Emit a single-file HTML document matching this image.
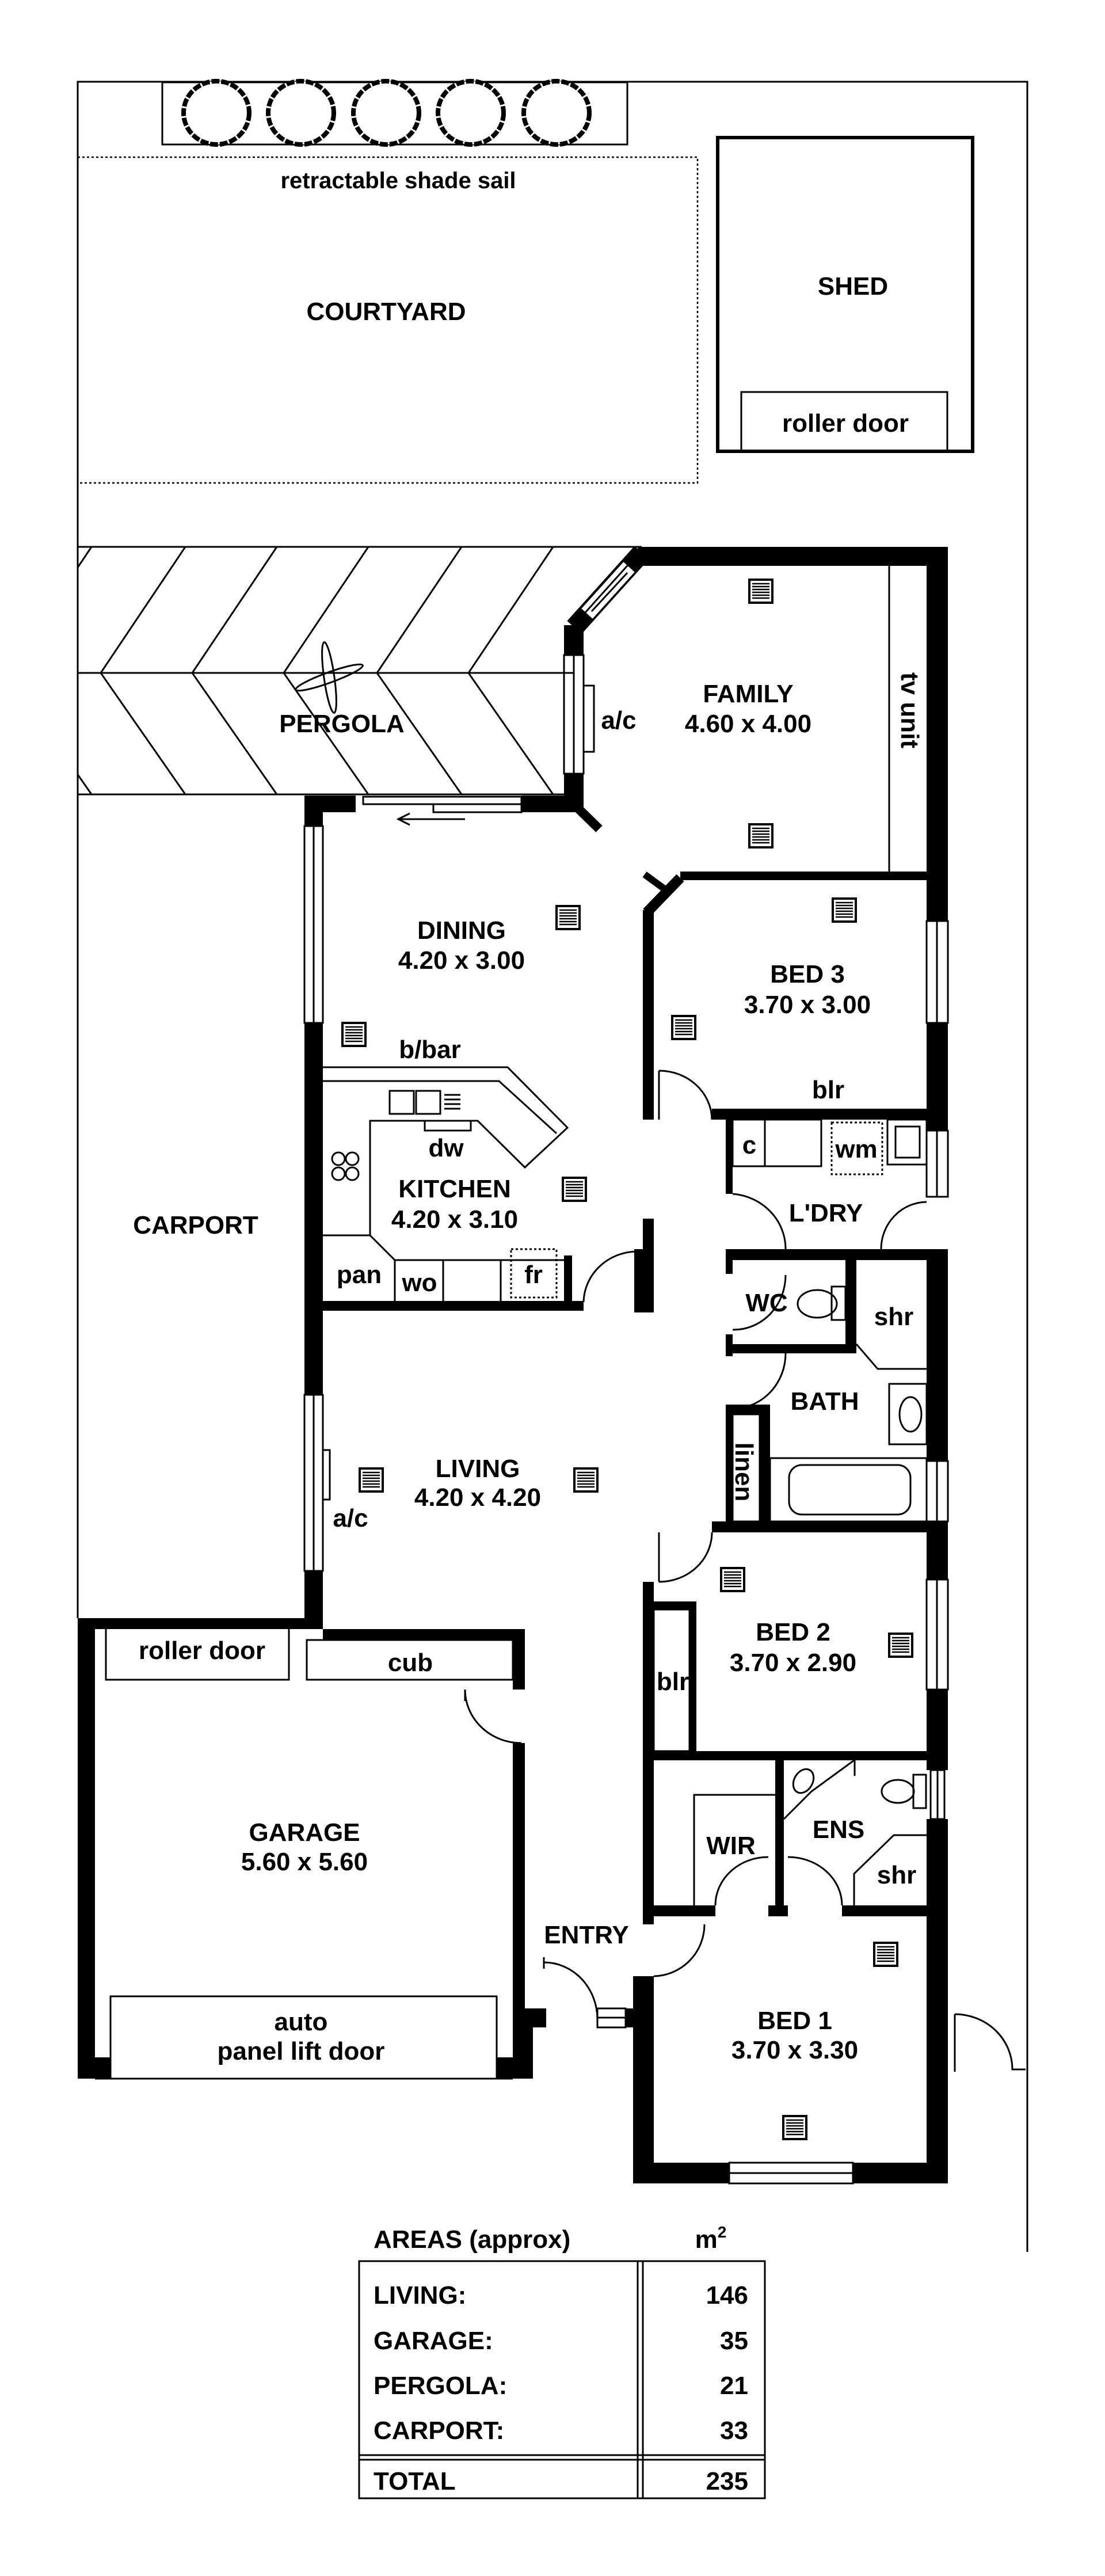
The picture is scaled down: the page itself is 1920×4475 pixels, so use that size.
<!DOCTYPE html>
<html><head><meta charset="utf-8"><style>
html,body{margin:0;padding:0;background:#fff;}
svg{display:block;}
text{font-family:"Liberation Sans",sans-serif;fill:#000;font-weight:bold;}
.l{font-size:44px;text-anchor:middle;}
.s{font-size:40px;text-anchor:middle;}
</style></head><body>
<svg width="1920" height="4475" viewBox="0 0 1920 4475" xmlns="http://www.w3.org/2000/svg">
<defs>
<symbol id="v" viewBox="0 0 44 44"><rect x="2" y="2" width="40" height="40" fill="#fff" stroke="#000" stroke-width="4"/><g stroke="#000" stroke-width="2.5"><line x1="7" y1="9" x2="37" y2="9"/><line x1="7" y1="14" x2="37" y2="14"/><line x1="7" y1="19" x2="37" y2="19"/><line x1="7" y1="24" x2="37" y2="24"/><line x1="7" y1="29" x2="37" y2="29"/><line x1="7" y1="34" x2="37" y2="34"/></g></symbol>
<clipPath id="pc"><polygon points="135,950 1115,950 998,1086 998,1380 135,1380"/></clipPath>
</defs>
<g fill="none" stroke="#000" stroke-width="3">
<polyline points="135,2811 135,142 1785,142 1785,3912"/>
<rect x="282" y="143" width="808" height="108"/>
<rect x="135" y="273" width="1077" height="566" stroke-dasharray="4,4" stroke-width="2.5"/>
<rect x="1247" y="239" width="443" height="545" stroke-width="6"/>
<rect x="1288" y="681" width="358" height="103"/>
</g>
<g fill="#fff" stroke="#000" stroke-width="8" stroke-dasharray="14,3">
<ellipse cx="376" cy="196" rx="57" ry="55"/><ellipse cx="523" cy="196" rx="57" ry="55"/><ellipse cx="671" cy="196" rx="57" ry="55"/><ellipse cx="818" cy="196" rx="57" ry="55"/><ellipse cx="967" cy="196" rx="57" ry="55"/>
</g>
<g fill="none" stroke="#000" stroke-width="3">
<line x1="135" y1="950" x2="1115" y2="950"/><line x1="135" y1="1380" x2="998" y2="1380"/><line x1="135" y1="1169" x2="998" y2="1169"/>
<g clip-path="url(#pc)">
<polyline points="0,950 -147,1169 0,1380"/><polyline points="159,950 12,1169 159,1380"/><polyline points="322,950 175,1169 322,1380"/><polyline points="481,950 334,1169 481,1380"/><polyline points="640,950 493,1169 640,1380"/><polyline points="802,950 655,1169 802,1380"/><polyline points="961,950 814,1169 961,1380"/>
</g>
<ellipse cx="572" cy="1177" rx="9" ry="62" transform="rotate(-8 572 1177)"/>
<ellipse cx="572" cy="1177" rx="62" ry="9" transform="rotate(-20 572 1177)"/>
</g>
<g fill="#000">
<rect x="1108" y="950" width="539" height="33"/>
<rect x="1610" y="950" width="37" height="650"/><rect x="1610" y="1777" width="37" height="187"/><rect x="1610" y="2170" width="37" height="368"/><rect x="1610" y="2643" width="37" height="101"/><rect x="1610" y="2935" width="37" height="140"/><rect x="1610" y="3160" width="37" height="633"/>
<rect x="980" y="1086" width="34" height="52"/><rect x="980" y="1344" width="34" height="67"/>
<rect x="529" y="1382" width="89" height="29"/><rect x="906" y="1382" width="108" height="29"/>
<rect x="529" y="1382" width="32" height="53"/><rect x="529" y="1777" width="32" height="646"/><rect x="529" y="2729" width="32" height="101"/>
<rect x="135" y="2811" width="426" height="19"/><rect x="561" y="2830" width="351" height="19"/>
<rect x="891" y="2830" width="21" height="105"/><rect x="891" y="3028" width="21" height="461"/><rect x="891" y="3489" width="58" height="33"/><rect x="891" y="3522" width="35" height="89"/><rect x="863" y="3574" width="63" height="37"/>
<rect x="135" y="2811" width="30" height="800"/><rect x="135" y="3574" width="57" height="37"/>
<rect x="561" y="2260" width="453" height="17"/><rect x="980" y="2181" width="14" height="80"/>
<rect x="1102" y="2170" width="15" height="110"/><rect x="1117" y="2117" width="19" height="163"/>
<rect x="1182" y="1514" width="465" height="15"/>
<rect x="1117" y="1581" width="19" height="364"/>
<rect x="1237" y="1926" width="410" height="19"/>
<rect x="1261" y="1926" width="12" height="148"/>
<rect x="1261" y="2170" width="386" height="19"/>
<rect x="1261" y="2170" width="12" height="43"/><rect x="1261" y="2318" width="12" height="38"/>
<rect x="1469" y="2189" width="19" height="162"/><rect x="1273" y="2335" width="215" height="16"/>
<rect x="1261" y="2447" width="12" height="196"/><rect x="1320" y="2447" width="18" height="196"/><rect x="1261" y="2440" width="77" height="17"/>
<rect x="1237" y="2643" width="410" height="19"/>
<rect x="1117" y="2748" width="19" height="310"/>
<rect x="1136" y="2782" width="70" height="14"/><rect x="1198" y="2782" width="12" height="260"/>
<rect x="1136" y="3042" width="474" height="16"/>
<rect x="1347" y="3058" width="15" height="271"/>
<rect x="1136" y="3310" width="107" height="19"/><rect x="1335" y="3310" width="34" height="19"/><rect x="1463" y="3310" width="147" height="19"/>
<rect x="1117" y="3058" width="19" height="285"/>
<rect x="1100" y="3433" width="36" height="360"/>
<rect x="1087" y="3489" width="30" height="33"/>
<rect x="1100" y="3757" width="167" height="36"/><rect x="1482" y="3757" width="165" height="36"/>
</g>
<g stroke="#000" fill="none">
<line x1="1115" y1="960" x2="998" y2="1090" stroke-width="34"/>
<line x1="1093" y1="985" x2="1020" y2="1066" stroke="#fff" stroke-width="26"/>
<line x1="1182" y1="1525" x2="1124" y2="1585" stroke-width="18"/>
<line x1="1120" y1="1519" x2="1157" y2="1546" stroke-width="12"/>
<line x1="1000" y1="1400" x2="1041" y2="1440" stroke-width="16"/>
</g>
<g fill="none" stroke="#000" stroke-width="3">
<line x1="1097" y1="975" x2="1008" y2="1074"/><line x1="1090" y1="995" x2="1028" y2="1062"/>
<rect x="980" y="1138" width="34" height="206"/><line x1="997" y1="1138" x2="997" y2="1344"/>
<rect x="1014" y="1191" width="18" height="115"/>
<rect x="529" y="1435" width="32" height="342"/><line x1="545" y1="1435" x2="545" y2="1777"/>
<rect x="529" y="2423" width="32" height="306"/><line x1="545" y1="2423" x2="545" y2="2729"/>
<rect x="561" y="2519" width="12" height="86"/>
<rect x="1610" y="1600" width="37" height="177"/><line x1="1628" y1="1600" x2="1628" y2="1777"/>
<rect x="1610" y="1964" width="37" height="115"/><line x1="1628" y1="1964" x2="1628" y2="2079"/>
<rect x="1610" y="2538" width="37" height="105"/><line x1="1628" y1="2538" x2="1628" y2="2643"/>
<rect x="1610" y="2744" width="37" height="191"/><line x1="1628" y1="2744" x2="1628" y2="2935"/>
<rect x="1617" y="3075" width="24" height="85"/><line x1="1629" y1="3075" x2="1629" y2="3160"/>
<rect x="1267" y="3757" width="215" height="36"/><line x1="1267" y1="3775" x2="1482" y2="3775"/>
<rect x="631" y="1384" width="275" height="13"/><rect x="753" y="1397" width="153" height="14"/>
<line x1="808" y1="1423" x2="692" y2="1423"/><polyline points="712,1413 692,1423 712,1433"/>
<line x1="1545" y1="983" x2="1545" y2="1514"/>
<polyline points="561,1854 882,1854 986,1959 912,2028 830,1947 643,1947 643,2146 686,2189 980,2189"/>
<polyline points="561,1878 867,1878 967,1969"/>
<line x1="561" y1="2146" x2="643" y2="2146"/>
<line x1="686" y1="2189" x2="686" y2="2260"/><line x1="770" y1="2189" x2="770" y2="2260"/><line x1="870" y1="2189" x2="870" y2="2260"/>
<rect x="677" y="1895" width="42" height="40"/><rect x="723" y="1895" width="42" height="40"/>
<line x1="772" y1="1902" x2="800" y2="1902"/><line x1="772" y1="1910" x2="800" y2="1910"/><line x1="772" y1="1918" x2="800" y2="1918"/><line x1="772" y1="1926" x2="800" y2="1926"/>
<rect x="738" y="1947" width="80" height="17"/>
<circle cx="588" cy="2013" r="11"/><circle cx="612" cy="2013" r="11"/><circle cx="588" cy="2039" r="11"/><circle cx="612" cy="2039" r="11"/>
<rect x="888" y="2170" width="79" height="84" stroke-dasharray="4,4"/>
<path d="M1108 2174 A 94 90 0 0 0 1014 2262"/>
<path d="M1145 1860 A 92 86 0 0 1 1237 1945"/><line x1="1145" y1="1860" x2="1145" y2="1945"/>
<path d="M1273 2074 A 100 96 0 0 1 1365 2170"/>
<path d="M1610 2088 A 80 82 0 0 0 1531 2170"/>
<path d="M1365 2215 A 90 95 0 0 1 1273 2310"/>
<path d="M1365 2351 A 92 96 0 0 1 1273 2447"/>
<path d="M1145 2748 A 92 86 0 0 0 1237 2662"/><line x1="1145" y1="2662" x2="1145" y2="2748"/>
<path d="M808 2935 A 98 93 0 0 0 906 3028"/><line x1="808" y1="2935" x2="808" y2="2955"/>
<path d="M1243 3310 A 92 84 0 0 1 1335 3226"/><path d="M1369 3226 A 94 84 0 0 1 1463 3310"/>
<path d="M1224 3343 A 90 90 0 0 1 1136 3433"/>
<path d="M945 3409 A 93 99 0 0 1 1038 3508"/><line x1="945" y1="3400" x2="945" y2="3420"/>
<rect x="1038" y="3489" width="49" height="33"/><line x1="1038" y1="3505" x2="1087" y2="3505"/>
<path d="M1659 3499 A 100 96 0 0 1 1759 3595 L1782 3595"/><line x1="1659" y1="3499" x2="1659" y2="3599"/>
<rect x="1273" y="1945" width="56" height="81"/><rect x="1329" y="1945" width="98" height="81"/>
<rect x="1445" y="1950" width="88" height="90" stroke-dasharray="4,4"/>
<rect x="1542" y="1945" width="68" height="78"/><rect x="1556" y="1957" width="42" height="54"/>
<ellipse cx="1420" cy="2265" rx="34" ry="24"/><rect x="1445" y="2235" width="24" height="58"/>
<polyline points="1488,2335 1525,2378 1610,2378"/>
<rect x="1545" y="2404" width="65" height="105"/><ellipse cx="1582" cy="2457" rx="19" ry="30"/>
<rect x="1338" y="2533" width="272" height="110"/><rect x="1371" y="2545" width="211" height="86" rx="22"/>
<rect x="1273" y="2457" width="47" height="186"/>
<rect x="1136" y="2796" width="62" height="246"/>
<polyline points="1206,3310 1206,3118 1347,3118"/>
<ellipse cx="1396" cy="3094" rx="16" ry="22" transform="rotate(30 1396 3094)"/>
<polyline points="1362,3160 1410,3112 1484,3058"/><line x1="1485" y1="3058" x2="1485" y2="3085"/>
<ellipse cx="1560" cy="3112" rx="28" ry="20"/><rect x="1587" y="3083" width="22" height="58"/>
<polyline points="1610,3188 1553,3188 1484,3255 1484,3310"/>
<rect x="184" y="2815" width="318" height="103"/>
<rect x="533" y="2849" width="358" height="69"/>
<rect x="192" y="3468" width="671" height="143"/>
<line x1="165" y1="3611" x2="891" y2="3611"/>
<rect x="624" y="3928" width="705" height="412"/>
<line x1="1108" y1="3928" x2="1108" y2="4340"/><line x1="1117" y1="3928" x2="1117" y2="4340"/>
<line x1="624" y1="4265" x2="1329" y2="4265"/><line x1="624" y1="4273" x2="1329" y2="4273"/>
</g>
<use href="#v" x="1300" y="1005" width="44" height="44"/>
<use href="#v" x="1300" y="1430" width="44" height="44"/>
<use href="#v" x="965" y="1572" width="44" height="44"/>
<use href="#v" x="593" y="1775" width="44" height="44"/>
<use href="#v" x="976" y="2044" width="44" height="44"/>
<use href="#v" x="1445" y="1559" width="44" height="44"/>
<use href="#v" x="1166" y="1763" width="44" height="44"/>
<use href="#v" x="623" y="2549" width="44" height="44"/>
<use href="#v" x="996" y="2549" width="44" height="44"/>
<use href="#v" x="1251" y="2722" width="44" height="44"/>
<use href="#v" x="1543" y="2836" width="44" height="44"/>
<use href="#v" x="1517" y="3373" width="44" height="44"/>
<use href="#v" x="1359" y="3674" width="44" height="44"/>
<text class="s" x="692" y="327">retractable shade sail</text>
<text class="l" x="671" y="556">COURTYARD</text>
<text class="l" x="1482" y="512">SHED</text>
<text class="l" x="1469" y="750">roller door</text>
<text class="l" x="594" y="1272">PERGOLA</text>
<text class="l" x="1300" y="1220">FAMILY</text>
<text class="l" x="1300" y="1272">4.60 x 4.00</text>
<text class="l" x="1075" y="1266">a/c</text>
<text class="l" x="1580" y="1234" transform="rotate(90 1580 1234)" dy="14">tv unit</text>
<text class="l" x="802" y="1631">DINING</text>
<text class="l" x="802" y="1683">4.20 x 3.00</text>
<text class="l" x="747" y="1838">b/bar</text>
<text class="l" x="775" y="2009">dw</text>
<text class="l" x="790" y="2080">KITCHEN</text>
<text class="l" x="790" y="2133">4.20 x 3.10</text>
<text class="l" x="624" y="2229">pan</text>
<text class="l" x="729" y="2243">wo</text>
<text class="l" x="927" y="2229">fr</text>
<text class="l" x="340" y="2143">CARPORT</text>
<text class="l" x="830" y="2566">LIVING</text>
<text class="l" x="830" y="2616">4.20 x 4.20</text>
<text class="l" x="609" y="2652">a/c</text>
<text class="l" x="1403" y="1707">BED 3</text>
<text class="l" x="1403" y="1760">3.70 x 3.00</text>
<text class="l" x="1439" y="1908">blr</text>
<text class="l" x="1302" y="2004">c</text>
<text class="l" x="1488" y="2011">wm</text>
<text class="l" x="1435" y="2122">L'DRY</text>
<text class="l" x="1332" y="2278">WC</text>
<text class="l" x="1553" y="2302">shr</text>
<text class="l" x="1433" y="2449">BATH</text>
<text class="l" x="1292" y="2557" transform="rotate(90 1292 2557)" dy="14">linen</text>
<text class="l" x="1378" y="2850">BED 2</text>
<text class="l" x="1378" y="2903">3.70 x 2.90</text>
<text class="l" x="1169" y="2936">blr</text>
<text class="l" x="351" y="2882">roller door</text>
<text class="l" x="713" y="2903">cub</text>
<text class="l" x="529" y="3198">GARAGE</text>
<text class="l" x="529" y="3249">5.60 x 5.60</text>
<text class="l" x="523" y="3527">auto</text>
<text class="l" x="523" y="3578">panel lift door</text>
<text class="l" x="1019" y="3376">ENTRY</text>
<text class="l" x="1270" y="3221">WIR</text>
<text class="l" x="1457" y="3193">ENS</text>
<text class="l" x="1558" y="3272">shr</text>
<text class="l" x="1381" y="3525">BED 1</text>
<text class="l" x="1381" y="3576">3.70 x 3.30</text>
<text x="649" y="3905" style="font-size:44px">AREAS (approx)</text>
<text class="l" x="1235" y="3905">m<tspan dy="-18" style="font-size:28px">2</tspan></text>
<g style="font-size:44px">
<text x="649" y="4002">LIVING:</text><text x="1300" y="4002" text-anchor="end">146</text>
<text x="649" y="4081">GARAGE:</text><text x="1300" y="4081" text-anchor="end">35</text>
<text x="649" y="4159">PERGOLA:</text><text x="1300" y="4159" text-anchor="end">21</text>
<text x="649" y="4237">CARPORT:</text><text x="1300" y="4237" text-anchor="end">33</text>
<text x="649" y="4325">TOTAL</text><text x="1300" y="4325" text-anchor="end">235</text>
</g>
</svg>
</body></html>
